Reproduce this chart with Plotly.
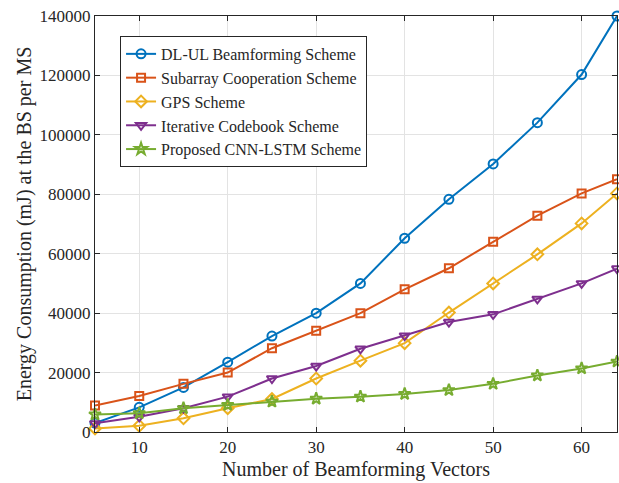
import plotly.graph_objects as go

x_vals = [5, 10, 15, 20, 25, 30, 35, 40, 45, 50, 55, 60, 64]
dl_ul = [3000, 8300, 15000, 23500, 32300, 40000, 50000, 65200, 78300, 90200, 104100, 120300, 140000]
subarray = [8900, 12100, 16200, 20000, 28200, 34100, 40000, 48000, 55100, 64000, 72800, 80300, 85100]
gps = [1200, 2100, 4600, 8000, 11100, 18000, 24000, 29900, 40200, 50000, 59800, 70200, 80300]
iterative = [2900, 5100, 8000, 11900, 18000, 22200, 28000, 32400, 37000, 39600, 44800, 50000, 55000]
proposed = [5900, 6300, 8000, 9100, 10200, 11200, 11900, 12800, 14100, 16200, 19000, 21400, 23700]

series = [
    ("DL-UL Beamforming Scheme", dl_ul, "#0072BD", "circle-open", 9),
    ("Subarray Cooperation Scheme", subarray, "#D95319", "square-open", 8),
    ("GPS Scheme", gps, "#EDB120", "diamond-open", 9),
    ("Iterative Codebook Scheme", iterative, "#7E2F8E", "triangle-down-open", 9),
    ("Proposed CNN-LSTM Scheme", proposed, "#77AC30", "star-open", 9),
]

fig = go.Figure()
for name, vals, color, sym, sz in series:
    fig.add_trace(go.Scatter(
        x=x_vals, y=vals, name=name, mode="lines+markers",
        line=dict(color=color, width=2),
        marker=dict(symbol=sym, size=sz, color=color, line=dict(color=color, width=2)),
        cliponaxis=False,
    ))

FF = "Liberation Serif, Times New Roman, serif"
axis_common = dict(
    showline=True, linecolor="#262626", linewidth=1, mirror="ticks",
    ticks="inside", ticklen=5, tickcolor="#262626",
    showgrid=True, gridcolor="#e3e3e3", gridwidth=1, zeroline=False,
    tickfont=dict(family=FF, size=17, color="#262626"),
)
fig.update_layout(
    width=619, height=483,
    margin=dict(l=95, r=2, t=16, b=51),
    paper_bgcolor="white", plot_bgcolor="white",
    font=dict(family=FF, color="#262626"),
    xaxis=dict(range=[5, 64], tickvals=[10, 20, 30, 40, 50, 60],
               title=dict(text="Number of Beamforming Vectors",
                          font=dict(family=FF, size=20, color="#262626"), standoff=5),
               **axis_common),
    yaxis=dict(range=[0, 140000], tickvals=list(range(0, 140001, 20000)),
               tickformat="d",
               title=dict(text="Energy Consumption (mJ) at the BS per MS",
                          font=dict(family=FF, size=20, color="#262626"), standoff=2),
               **axis_common),
    legend=dict(x=0.048, y=0.952, xanchor="left", yanchor="top",
                bgcolor="white", bordercolor="#262626", borderwidth=1,
                font=dict(family=FF, size=16, color="#262626"),
                tracegroupgap=0),
    showlegend=True,
)
fig.write_html("out.html")
